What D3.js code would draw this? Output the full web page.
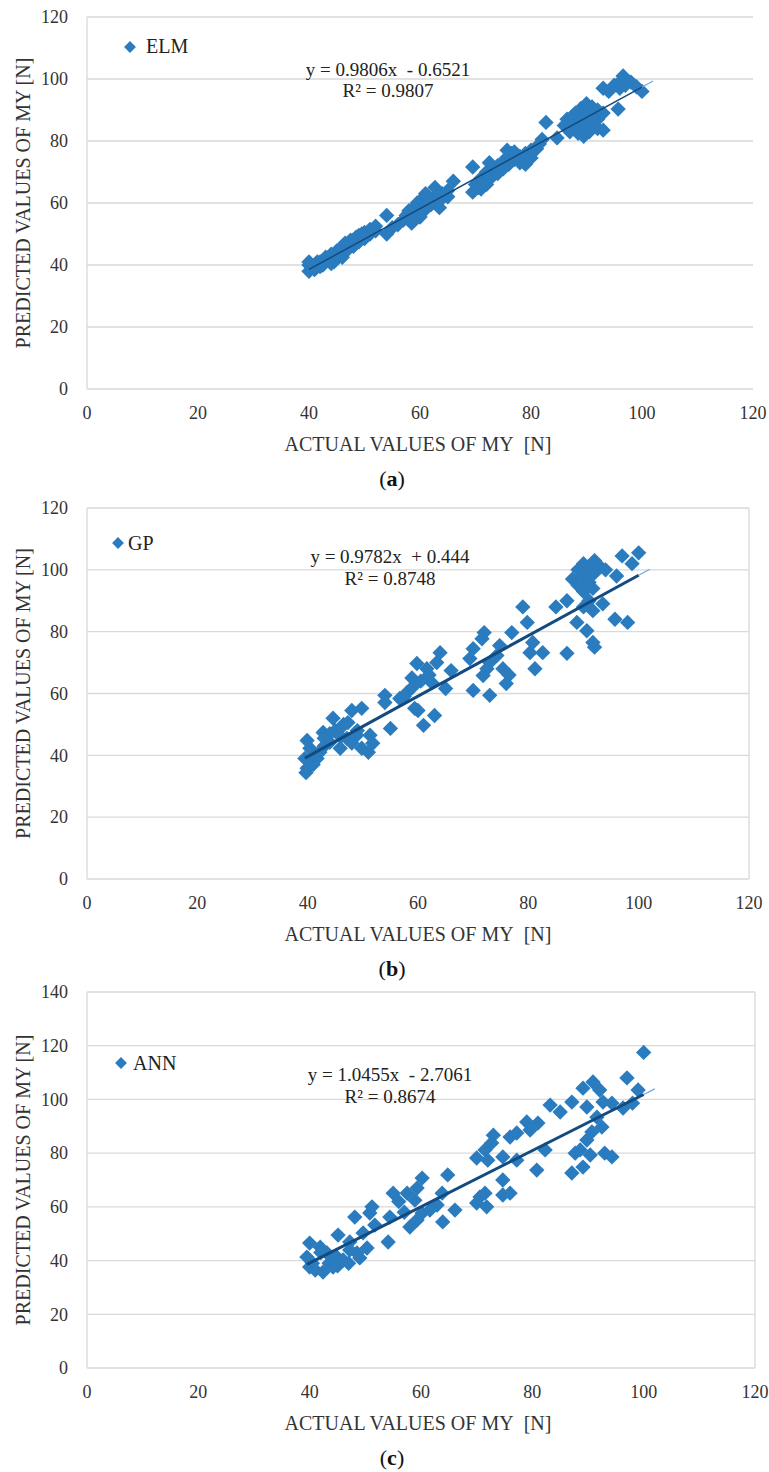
<!DOCTYPE html>
<html>
<head>
<meta charset="UTF-8">
<script src="https://d3js.org/d3.v7.min.js"></script>
<style>
  body { margin: 0; background: #fff; }
</style>
</head>
<body>
<div id="chart"></div>
<script>
// ---- data ----
const xTicks = [0, 20, 40, 60, 80, 100, 120];
const yTicksA = [0, 20, 40, 60, 80, 100, 120];
const yTicksB = [0, 20, 40, 60, 80, 100, 120];
const yTicksC = [0, 20, 40, 60, 80, 100, 120, 140];

// (a) ELM
const elmActual = [40,40,40,40.5,41,41,41.5,42,42,42.5,43,43,44,44,44.5,45,45,45.5,46,46,46.5,47,47,47.5,48,48,48.5,49,49,49.5,50,50,51,51,52,52,44,46,
  54,54,55,
  56,57,57.5,58,58,59,59,59.5,60,60,60.5,61,61,61.5,62,62,62.7,63,63,63.5,64,64,65,65,66,60,58.5,61,
  69.5,69.5,70,70.5,71,71,72,72,72.5,73,73,74,74,75,75,75.7,76,76,76.5,77,77,78,78,79,79,80,80,81,81.5,82,72,
  82.7,84.7,
  86,86.5,87,87.5,88,88,88.5,89,89,89,89.5,90,90,90,90.5,91,91,91,92,92,92,93,93,
  95.7,93,94,95,96,96,96.6,97,97,98,99,100];
const elmPredicted = [38,40,41,39,40,38.5,41,39.5,41,40,41,42.5,42,43.5,41,43,44.5,45,44,46,47,45,47,48,46,48,49,47.5,49.5,50,48.5,50.5,50,51.5,51,52.5,40.5,42.5,
  56,50,52,
  53,54.5,56,55,57.5,56,58.5,60,57,59,61.5,58,60,62,59.5,61,65,60.5,62.5,58.5,61.5,63,62,64,67,55.5,53.5,63,
  71.6,63.5,66,65,68,64.5,67,70,73,68.5,71,69.5,72,71,73.5,77,72.5,75,76,74,76.5,73,75,72.5,76,74.5,77,77.5,79,80.5,66,
  86,81,
  85,87,83,88,86,89,82.5,84,88,90.5,81.5,86,89,92,83,85,88,91,84,87,90,83.5,89,
  90.3,97,96,98,97,99,101,100,98,99,97.5,96];

// (b) GP
const gpActual = [39.5,39.9,39.7,39.9,40.4,40.5,41,41.5,41.7,42.2,42.8,43,44,44.6,45,45.9,45.9,46.5,47.1,47.3,48,48.9,49,49.8,49.8,51,51.3,51.8,46,44,43,48,
  54,54,55,56.7,58,58.9,59.8,59.4,60,61,61.6,62.5,63,63.4,64,65,66,57.5,59,60.5,62,
  69.4,70,70,71.6,71.8,72,73,73,74.3,74.8,75.4,76,77,79,79.8,80.3,80.8,81.2,82.6,72.5,76.5,
  85,87,87,88,88.8,89,89,90,90,90,90.6,91,91,91.7,91.7,91.7,92,92,93,93.5,94,91,90,95.7,96,97,98,98.8,100,92];
const gpPredicted = [39,35.8,34.4,44.8,42.3,38,37,40,39,41,47.4,43,44.2,52,48,48.7,42.3,50,45.5,50.6,54.5,46.5,48,55.2,42.3,41,46.5,43.9,46,47,45.5,44,
  59.4,57.1,48.7,58.4,60.3,65,69.7,55.2,54.5,49.7,68,63.5,52.9,70,73.2,61.6,67.4,59,62,64,66,
  71.3,74.5,61,77.7,65.8,79.7,70,59.4,72.3,75.5,68,63.2,79.7,88,83,73.2,76.5,68,73.2,68,66,
  88,90,73,97,83,100,95,102,98,93,80.3,101,96,94,86.8,76.5,103,99,101,89,100,90,88,84,98,104.5,83,102,105.5,75];

// (c) ANN
const annActual = [39.5,40,40,40.5,41,41.9,42.4,43.1,43.5,44.2,44.9,45.1,46,47.2,47.2,48.1,48.5,49.6,50.3,50.8,51.2,51.7,42,45,47,49,
  54.1,54.4,55,57.5,58,58.9,59.3,59.3,60.2,60.2,61.6,62.9,63.8,63.9,64.8,66.1,56,57,
  70,70,70.6,71.5,71.5,71.8,72,72.7,73,74.7,74.7,74.7,76,76,77.2,77.2,79,79.6,80.8,81,82.3,83.2,85,
  87.1,87.1,87.7,88.6,89.1,89.1,89.8,89.8,90.4,90.7,90.9,91.6,92.1,92.5,92.7,93,94.3,94.3,96.3,97,98,99,100];
const annPredicted = [41.3,46.5,37.6,39,36.5,45,35.7,42.8,39,37.6,41.3,49.5,40.2,46.9,43.9,56.2,42.8,50.3,44.7,57.7,60,53.2,43,38,39,41,
  46.9,56.2,65.1,65.1,52.5,62.5,67,55.1,70.7,57.7,58.8,60.7,65.1,54.4,71.9,58.8,62,58,
  78.2,61.4,63.7,81.2,65.1,60,77.4,83.8,86.7,78.6,70,64.4,86,65.1,87.5,77.4,91.6,88.6,73.7,91.2,81.2,97.9,95.3,
  99,72.6,80,81.2,104.2,74.8,97.2,84.9,79.3,87.9,106.5,93.4,103.5,89.7,99,80,98.6,78.6,96.8,108,98.6,103.5,117.5];

// trend lines as printed on the chart
const trendSlope = [0.9806, 0.9782, 1.0455];
const trendIntercept = [-0.6521, 0.444, -2.7061];
const trendLabels = ["y = 0.9806x\u00A0 - 0.6521", "y = 0.9782x\u00A0 + 0.444", "y = 1.0455x\u00A0 - 2.7061"];
const r2Labels = ["R\u00B2 = 0.9807", "R\u00B2 = 0.8748", "R\u00B2 = 0.8674"];
const modelNames = ["ELM", "GP", "ANN"];
const panelTags = ["a", "b", "c"];

const W = 769, H = 1472;
const markerColor = "#2a7cbf";
const gridColor = "#d9d9d9";
const serif = "'Liberation Serif', 'Times New Roman', 'DejaVu Serif', serif";

const svg = d3.select("#chart").append("svg")
  .attr("width", W).attr("height", H)
  .attr("font-family", serif)
  .style("background", "#fff");

// panel placement
const panels = [
  {left: 87, right: 753, top: 17, bottom: 389, yMax: 120, yTicks: yTicksA, box: false, lineW: 1.5,
   xs: elmActual, ys: elmPredicted, legend: [130, 47, 146, 53], eq: [388, 76, 97]},
  {left: 87, right: 749, top: 508, bottom: 879, yMax: 120, yTicks: yTicksB, box: true, lineW: 3,
   xs: gpActual, ys: gpPredicted, legend: [118, 543, 128, 550], eq: [390, 563, 585]},
  {left: 87, right: 755, top: 992, bottom: 1368, yMax: 140, yTicks: yTicksC, box: true, lineW: 3,
   xs: annActual, ys: annPredicted, legend: [121, 1063, 133, 1070], eq: [390, 1081, 1103]}
];

const diamond = d3.symbol().type(d3.symbolSquare);

panels.forEach(function(p, i) {
  const g = svg.append("g");
  const x = d3.scaleLinear().domain([0, 120]).range([p.left, p.right]);
  const y = d3.scaleLinear().domain([0, p.yMax]).range([p.bottom, p.top]);

  // horizontal gridlines
  g.append("g")
    .selectAll("line")
    .data(p.yTicks)
    .join("line")
    .attr("x1", p.left).attr("x2", p.right)
    .attr("y1", d => y(d)).attr("y2", d => y(d))
    .attr("stroke", gridColor).attr("stroke-width", 1.3);

  // left axis line, plus box for b/c
  g.append("line")
    .attr("x1", p.left).attr("x2", p.left)
    .attr("y1", p.top).attr("y2", p.bottom)
    .attr("stroke", gridColor).attr("stroke-width", 1.3);
  if (p.box) {
    g.append("line")
      .attr("x1", p.right).attr("x2", p.right)
      .attr("y1", p.top).attr("y2", p.bottom)
      .attr("stroke", gridColor).attr("stroke-width", 1.3);
  }

  // y tick labels
  g.append("g")
    .selectAll("text")
    .data(p.yTicks)
    .join("text")
    .attr("x", 68).attr("y", d => y(d))
    .attr("dy", "0.35em")
    .attr("text-anchor", "end")
    .attr("font-size", 18).attr("fill", "#333")
    .text(d => d);

  // x tick labels
  g.append("g")
    .selectAll("text")
    .data(xTicks)
    .join("text")
    .attr("x", d => x(d)).attr("y", p.bottom + 30)
    .attr("text-anchor", "middle")
    .attr("font-size", 18).attr("fill", "#333")
    .text(d => d);

  // axis titles
  g.append("text")
    .attr("x", 418).attr("y", p.bottom + 62)
    .attr("text-anchor", "middle")
    .attr("font-size", 20).attr("fill", "#333")
    .text("ACTUAL VALUES OF MY\u00A0 [N]");

  g.append("text")
    .attr("transform", `translate(30,${(p.top + p.bottom) / 2}) rotate(-90)`)
    .attr("text-anchor", "middle")
    .attr("font-size", 20).attr("fill", "#333")
    .text("PREDICTED VALUES OF MY [N]");

  // panel tag (a)/(b)/(c)
  const tag = g.append("text")
    .attr("x", 392).attr("y", p.bottom + 97)
    .attr("text-anchor", "middle")
    .attr("font-size", 22).attr("fill", "#111");
  tag.append("tspan").text("(");
  tag.append("tspan").attr("font-weight", "bold").text(panelTags[i]);
  tag.append("tspan").text(")");

  // points
  const pts = p.xs.map((v, k) => ({a: v, b: p.ys[k]}));
  g.append("g")
    .selectAll("path")
    .data(pts)
    .join("path")
    .attr("d", diamond.size(118))
    .attr("transform", d => `translate(${x(d.a)},${y(d.b)}) rotate(45)`)
    .attr("fill", markerColor);

  // trend line: solid over the data range, thin extension to the right
  const xMin = d3.min(p.xs), xMax = d3.max(p.xs);
  const f = v => trendSlope[i] * v + trendIntercept[i];
  g.append("line")
    .attr("x1", x(xMax)).attr("y1", y(f(xMax)))
    .attr("x2", x(102)).attr("y2", y(f(102)))
    .attr("stroke", "#6fa8dc").attr("stroke-width", 1.2);
  g.append("line")
    .attr("x1", x(xMin)).attr("y1", y(f(xMin)))
    .attr("x2", x(xMax)).attr("y2", y(f(xMax)))
    .attr("stroke", "#134a7f").attr("stroke-width", p.lineW);

  // legend
  g.append("path")
    .attr("d", diamond.size(70))
    .attr("transform", `translate(${p.legend[0]},${p.legend[1]}) rotate(45)`)
    .attr("fill", markerColor);
  g.append("text")
    .attr("x", p.legend[2]).attr("y", p.legend[3])
    .attr("font-size", 20).attr("fill", "#222")
    .text(modelNames[i]);

  // equation and R²
  g.append("text")
    .attr("x", p.eq[0]).attr("y", p.eq[1])
    .attr("text-anchor", "middle")
    .attr("font-size", 19).attr("fill", "#222")
    .text(trendLabels[i]);
  g.append("text")
    .attr("x", p.eq[0]).attr("y", p.eq[2])
    .attr("text-anchor", "middle")
    .attr("font-size", 19).attr("fill", "#222")
    .text(r2Labels[i]);
});
</script>
</body>
</html>
